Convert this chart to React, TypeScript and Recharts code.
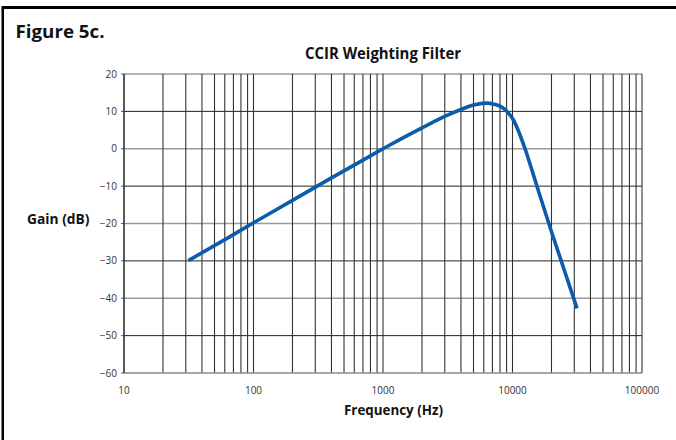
import React from "react";
import { LineChart, Line, XAxis, YAxis, ReferenceLine } from "recharts";

// CCIR (ITU-R 468) weighting filter response
const frequencies = [31.5, 63, 100, 200, 400, 800, 1000, 2000, 3150, 4000, 5000, 6300, 7100, 8000, 9000, 10000, 12500, 14000, 16000, 20000, 31500];
const gainsDb = [-29.9, -23.9, -19.8, -13.8, -7.8, -1.9, 0, 5.6, 9.0, 10.5, 11.7, 12.2, 12.0, 11.4, 10.1, 8.1, 0.0, -5.3, -11.7, -22.2, -42.7];

const xTicks = [10, 100, 1000, 10000, 100000];
const yTicks = [20, 10, 0, -10, -20, -30, -40, -50, -60];
const verticalGrid = [
  20, 30, 40, 50, 60, 70, 80, 90, 100,
  200, 300, 400, 500, 600, 700, 800, 900, 1000,
  2000, 3000, 4000, 5000, 6000, 7000, 8000, 9000, 10000,
  20000, 30000, 40000, 50000, 60000, 70000, 80000, 90000, 100000,
];
const majorRows = [20, 0, -20, -40];
const minorRows = [10, -10, -30, -50];

const data = frequencies.map((f, i) => ({ f, g: gainsDb[i] }));

const FONT = "'Open Sans', 'DejaVu Sans', sans-serif";

export default function App() {
  return (
    <div style={{ position: "absolute", left: 0, top: 0, width: 676, height: 440, background: "#fff" }}>
      <LineChart
        width={676}
        height={440}
        data={data}
        margin={{ top: 74, right: 34, bottom: 37, left: 64 }}
      >
        <XAxis
          dataKey="f"
          type="number"
          scale="log"
          domain={[10, 100000]}
          ticks={xTicks}
          allowDataOverflow
          height={30}
          tickLine={false}
          tickSize={10}
          tickMargin={4}
          axisLine={{ stroke: "#8a8a8a", strokeWidth: 1.5 }}
          tick={{ fill: "#333", fontSize: 10, fontFamily: FONT }}
        />
        <YAxis
          type="number"
          domain={[-60, 20]}
          ticks={yTicks}
          width={60}
          tickSize={3}
          tickMargin={4}
          interval={0}
          axisLine={{ stroke: "#222", strokeWidth: 1.5 }}
          tickLine={{ stroke: "#555" }}
          tick={{ fill: "#333", fontSize: 10, fontFamily: FONT }}
          tickFormatter={(v: number) => (v < 0 ? "\u2212" + Math.abs(v) : String(v))}
        />
        {majorRows.map((y) => (
          <ReferenceLine key={"ry" + y} y={y} stroke="#9a9a9a" strokeWidth={1.6} />
        ))}
        {minorRows.map((y) => (
          <ReferenceLine key={"ryb" + y} y={y} stroke="#222" strokeWidth={1} />
        ))}
        {verticalGrid.map((x) => (
          <ReferenceLine key={"rx" + x} x={x} stroke="#333" strokeWidth={1.1} />
        ))}
        <Line
          type="monotone"
          dataKey="g"
          stroke="#0b5cab"
          strokeWidth={3.6}
          dot={false}
          isAnimationActive={false}
        />
      </LineChart>
      <svg
        width={676}
        height={440}
        style={{ position: "absolute", left: 0, top: 0, pointerEvents: "none" }}
      >
        <rect x={2} y={6} width={674} height={3} fill="#000" />
        <rect x={1.5} y={6} width={2.5} height={434} fill="#000" />
        <text x={15.5} y={38.3} fontSize={18.6} fontWeight="bold" fontFamily={FONT} fill="#111" textLength={89} lengthAdjust="spacingAndGlyphs">
          Figure 5c.
        </text>
        <text x={305} y={59} fontSize={16} fontWeight="bold" fontFamily={FONT} fill="#111" textLength={156} lengthAdjust="spacingAndGlyphs">
          CCIR Weighting Filter
        </text>
        <text x={27} y={224.3} fontSize={14} fontWeight="bold" fontFamily={FONT} fill="#111" textLength={62.5} lengthAdjust="spacingAndGlyphs">
          Gain (dB)
        </text>
        <text x={344} y={415} fontSize={14} fontWeight="bold" fontFamily={FONT} fill="#111" textLength={99} lengthAdjust="spacingAndGlyphs">
          Frequency (Hz)
        </text>
      </svg>
    </div>
  );
}
